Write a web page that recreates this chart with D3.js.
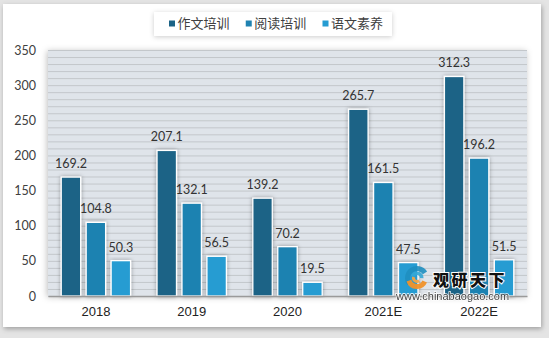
<!DOCTYPE html>
<html>
<head>
<meta charset="utf-8">
<script src="https://cdn.jsdelivr.net/npm/d3@7/dist/d3.min.js"></script>
<style>
  html, body { margin: 0; padding: 0; background: #dedede; }
  svg { display: block; }
</style>
</head>
<body>
<svg id="chart" width="549" height="338"></svg>
<script>
const categories = ["2018", "2019", "2020", "2021E", "2022E"];
const seriesNames = ["作文培训", "阅读培训", "语文素养"];
const compositionValues = [169.2, 207.1, 139.2, 265.7, 312.3];
const readingValues = [104.8, 132.1, 70.2, 161.5, 196.2];
const literacyValues = [50.3, 56.5, 19.5, 47.5, 51.5];
const yTickLabels = [0, 50, 100, 150, 200, 250, 300, 350];
const gridValues = d3.range(0, 351, 10);
const colors = ["#1b6386", "#1f82b1", "#259cd2"];
const seriesValues = [compositionValues, readingValues, literacyValues];

const svg = d3.select("#chart");
const defs = svg.append("defs");

const cardShadow = defs.append("filter").attr("id", "cardShadow")
  .attr("x", "-5%").attr("y", "-5%").attr("width", "110%").attr("height", "115%");
cardShadow.append("feDropShadow").attr("dx", 1).attr("dy", 2).attr("stdDeviation", 2.5)
  .attr("flood-color", "#000").attr("flood-opacity", 0.3);

const barShadow = defs.append("filter").attr("id", "barShadow")
  .attr("x", "-40%").attr("y", "-10%").attr("width", "180%").attr("height", "120%");
barShadow.append("feDropShadow").attr("dx", 0).attr("dy", 0).attr("stdDeviation", 2)
  .attr("flood-color", "#000").attr("flood-opacity", 0.35);

const legendShadow = defs.append("filter").attr("id", "legendShadow")
  .attr("x", "-10%").attr("y", "-30%").attr("width", "120%").attr("height", "170%");
legendShadow.append("feDropShadow").attr("dx", 0).attr("dy", 1).attr("stdDeviation", 2.5)
  .attr("flood-color", "#000").attr("flood-opacity", 0.2);

const plotShadow = defs.append("filter").attr("id", "plotShadow")
  .attr("x", "-5%").attr("y", "-5%").attr("width", "110%").attr("height", "110%");
plotShadow.append("feDropShadow").attr("dx", -1).attr("dy", 1).attr("stdDeviation", 3)
  .attr("flood-color", "#000").attr("flood-opacity", 0.25);

// outer background
svg.append("rect").attr("x", 0).attr("y", 0).attr("width", 549).attr("height", 338).attr("fill", "#e4e4e4");
// white card
svg.append("rect").attr("x", 3).attr("y", 4).attr("width", 538).attr("height", 323)
  .attr("fill", "#ffffff").attr("filter", "url(#cardShadow)");

const plot = { left: 48, right: 527, top: 50, bottom: 296 };

const x0 = d3.scaleBand().domain(categories).range([plot.left, plot.right]).padding(0);
const x1 = d3.scaleBand().domain(seriesNames).range([0, x0.bandwidth()])
  .paddingInner(0.22).paddingOuter(0.53);
const y = d3.scaleLinear().domain([0, 350]).range([plot.bottom, plot.top]);

// plot background
svg.append("rect").attr("x", plot.left).attr("y", plot.top)
  .attr("width", plot.right - plot.left).attr("height", plot.bottom - plot.top)
  .attr("fill", "#dfe4ea").attr("filter", "url(#plotShadow)");

// gridlines
const grid = svg.append("g").attr("transform", `translate(${plot.left},0)`)
  .call(d3.axisRight(y).tickValues(gridValues).tickSize(plot.right - plot.left).tickFormat(""));
grid.select(".domain").remove();
grid.selectAll(".tick line").attr("stroke", "#c3c7cb").attr("stroke-width", 1);

// y axis labels
const yAxis = svg.append("g").attr("transform", `translate(${plot.left},0)`)
  .call(d3.axisLeft(y).tickValues(yTickLabels).tickSize(0).tickPadding(12));
yAxis.select(".domain").remove();
yAxis.selectAll("text").attr("font-family", "Lato, 'Open Sans', sans-serif")
  .attr("font-size", "12.5px").attr("fill", "#404040");

// bars
const groups = svg.append("g").selectAll("g").data(categories).join("g")
  .attr("transform", d => `translate(${x0(d)},0)`);

seriesNames.forEach((name, si) => {
  groups.append("rect")
    .attr("x", x1(name))
    .attr("y", (d, i) => y(seriesValues[si][i]))
    .attr("width", x1.bandwidth())
    .attr("height", (d, i) => y(0) - y(seriesValues[si][i]))
    .attr("fill", colors[si])
    .attr("stroke", "#ffffff")
    .attr("stroke-width", 1.3)
    .attr("filter", "url(#barShadow)");
});

// x axis
const xAxis = svg.append("g").attr("transform", `translate(0,${plot.bottom})`)
  .call(d3.axisBottom(x0).tickSize(0).tickPadding(10.5));
xAxis.select(".domain").attr("stroke", "#9a9a9a").attr("stroke-width", 1.3);
xAxis.selectAll("text").attr("font-family", "'Liberation Sans', Arial, sans-serif")
  .attr("font-size", "13px").attr("fill", "#222");

// data labels
seriesNames.forEach((name, si) => {
  groups.append("text")
    .attr("x", x1(name) + x1.bandwidth() / 2)
    .attr("y", (d, i) => y(seriesValues[si][i]) - 9)
    .attr("text-anchor", "middle")
    .attr("font-family", "Lato, 'Open Sans', sans-serif")
    .attr("font-size", "12.5px")
    .attr("fill", "#333")
    .text((d, i) => seriesValues[si][i].toFixed(1));
});

// legend
const legend = svg.append("g");
legend.append("rect").attr("x", 154).attr("y", 12).attr("width", 238).attr("height", 24)
  .attr("fill", "#ffffff").attr("filter", "url(#legendShadow)");
const legendX = d3.scalePoint().domain(seriesNames).range([169, 322.5]);
const li = legend.selectAll("g.item").data(seriesNames).join("g").attr("class", "item")
  .attr("transform", d => `translate(${legendX(d)},23.5)`);
li.append("rect").attr("x", 0).attr("y", -3).attr("width", 6).attr("height", 6)
  .attr("fill", (d, i) => colors[i]);
li.append("text").attr("x", 8.5).attr("y", 0).attr("dy", "0.36em")
  .attr("font-family", "'Noto Sans CJK SC', sans-serif").attr("font-size", "13px")
  .attr("fill", "#404040").text(d => d);

// watermark
const wm = svg.append("g");
const logo = wm.append("g").attr("transform", "translate(417,278)");
const arc = d3.arc();
logo.append("path").attr("d", arc({ innerRadius: 7, outerRadius: 12, startAngle: -2.2, endAngle: 1.0 }))
  .attr("fill", "#1f8fc0").attr("opacity", 0.9);
logo.append("path").attr("d", arc({ innerRadius: 3, outerRadius: 6.5, startAngle: -1.2, endAngle: 1.6 }))
  .attr("fill", "#35a8d6").attr("opacity", 0.9);
logo.append("path").attr("d", arc({ innerRadius: 6, outerRadius: 11, startAngle: 2.0, endAngle: 4.4 }))
  .attr("fill", "#f0922a").attr("opacity", 0.95);
logo.append("path").attr("d", arc({ innerRadius: 2, outerRadius: 5, startAngle: 2.5, endAngle: 5.0 }))
  .attr("fill", "#f3a444").attr("opacity", 0.95);
wm.append("text").attr("x", 433).attr("y", 286)
  .attr("font-family", "'Noto Sans CJK SC', sans-serif").attr("font-weight", 900)
  .attr("font-size", "16px").attr("fill", "#111")
  .attr("stroke", "#ffffff").attr("stroke-width", 2).attr("paint-order", "stroke")
  .attr("letter-spacing", "2.5px").text("观研天下");
wm.append("text").attr("x", 396).attr("y", 300)
  .attr("font-family", "'Liberation Sans', Arial, sans-serif")
  .attr("font-size", "11px").attr("fill", "#333")
  .attr("stroke", "#ffffff").attr("stroke-width", 1.5).attr("paint-order", "stroke")
  .attr("opacity", 0.9).text("www.chinabaogao.com");
</script>
</body>
</html>
